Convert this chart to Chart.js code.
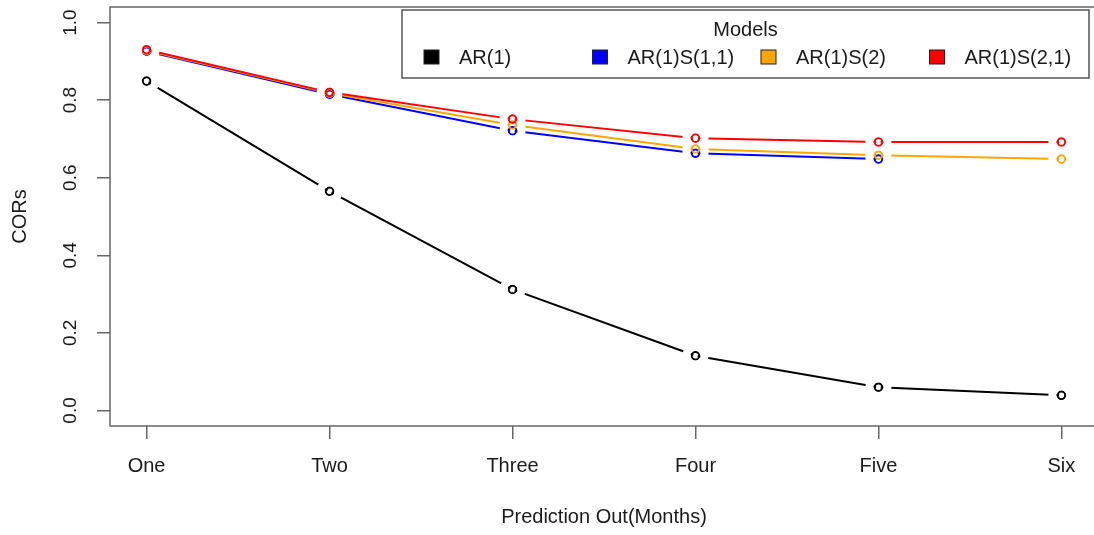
<!DOCTYPE html>
<html>
<head>
<meta charset="utf-8">
<script src="https://cdn.jsdelivr.net/npm/chart.js@4.4.0/dist/chart.umd.min.js"></script>
<style>
  html, body { margin: 0; padding: 0; background: #fff; overflow: hidden; }
  #wrap { width: 1094px; height: 535px; overflow: hidden; }
</style>
</head>
<body>
<div id="wrap"><canvas id="chart" width="1104" height="535"></canvas></div>
<script>
// values
const months = ['One', 'Two', 'Three', 'Four', 'Five', 'Six'];
const ar1 = [0.849, 0.565, 0.312, 0.141, 0.060, 0.039];
const ar1s11 = [0.926, 0.815, 0.721, 0.663, 0.648, null];
const ar1s2 = [0.928, 0.818, 0.736, 0.674, 0.658, 0.648];
const ar1s21 = [0.930, 0.820, 0.751, 0.702, 0.692, 0.692];
const yTicks = [0, 0.2, 0.4, 0.6, 0.8, 1.0];
const yTickLabels = ['0.0', '0.2', '0.4', '0.6', '0.8', '1.0'];
const modelNames = ['AR(1)', 'AR(1)S(1,1)', 'AR(1)S(2)', 'AR(1)S(2,1)'];
const modelColors = ['#000000', '#0000ff', '#ffa500', '#ff0000'];

const FONT = '"Liberation Sans", Arial, sans-serif';
const TEXT = '#1a1a1a';
const AXIS = '#666666';

const series = [ar1, ar1s11, ar1s2, ar1s21];
const datasets = series.map((vals, k) => ({
  label: modelNames[k],
  data: vals.map((v, i) => ({ x: i + 1, y: v })),
  borderColor: modelColors[k],
  backgroundColor: 'rgba(0,0,0,0)',
  borderWidth: 2,
  pointRadius: 3.8,
  pointBorderWidth: 2,
  pointBorderColor: modelColors[k],
  pointBackgroundColor: 'rgba(0,0,0,0)',
  tension: 0,
  spanGaps: false,
  order: 4 - k
}));

// type="b" look: cut the line around each point
const gapPlugin = {
  id: 'gaps',
  beforeDatasetDraw(chart, args) {
    const ctx = chart.ctx;
    ctx.save();
    ctx.beginPath();
    ctx.rect(0, 0, chart.width, chart.height);
    args.meta.data.forEach(pt => {
      if (pt.skip || isNaN(pt.y)) return;
      [13, 5, 2.4].forEach(r => {
        ctx.moveTo(pt.x + r, pt.y);
        ctx.arc(pt.x, pt.y, r, 0, Math.PI * 2);
      });
    });
    ctx.clip('evenodd');
  },
  afterDatasetDraw(chart) {
    chart.ctx.restore();
  }
};

const decorPlugin = {
  id: 'decor',
  afterDraw(chart) {
    const ctx = chart.ctx;
    const area = chart.chartArea;
    const yScale = chart.scales.y;

    // plot box
    ctx.save();
    ctx.strokeStyle = AXIS;
    ctx.lineWidth = 1.5;
    ctx.strokeRect(area.left, area.top, area.right - area.left, area.bottom - area.top);

    // rotated y tick labels
    ctx.font = '19px ' + FONT;
    ctx.fillStyle = TEXT;
    ctx.textAlign = 'center';
    ctx.textBaseline = 'middle';
    yTicks.forEach((v, i) => {
      ctx.save();
      ctx.translate(area.left - 39, yScale.getPixelForValue(v));
      ctx.rotate(-Math.PI / 2);
      ctx.fillText(yTickLabels[i], 0, 0);
      ctx.restore();
    });

    // legend
    const lx = area.right - 696, ly = area.top + 3, lw = 687, lh = 68;
    ctx.fillStyle = '#ffffff';
    ctx.fillRect(lx, ly, lw, lh);
    ctx.strokeStyle = '#555555';
    ctx.lineWidth = 1.5;
    ctx.strokeRect(lx, ly, lw, lh);
    ctx.font = '20px ' + FONT;
    ctx.fillStyle = TEXT;
    ctx.textAlign = 'center';
    ctx.fillText('Models', lx + lw / 2, ly + 20);
    ctx.textAlign = 'left';
    modelNames.forEach((name, k) => {
      const bx = lx + 22 + k * 168.5;
      ctx.fillStyle = modelColors[k];
      ctx.fillRect(bx, ly + 40, 15, 14);
      ctx.strokeStyle = '#222222';
      ctx.lineWidth = 1;
      ctx.strokeRect(bx, ly + 40, 15, 14);
      ctx.fillStyle = TEXT;
      ctx.fillText(name, bx + 35, ly + 48);
    });
    ctx.restore();
  }
};

new Chart(document.getElementById('chart').getContext('2d'), {
  type: 'line',
  data: { datasets: datasets },
  options: {
    responsive: false,
    animation: false,
    layout: { padding: { left: 0, top: 7, right: 5, bottom: 0 } },
    plugins: {
      legend: { display: false },
      tooltip: { enabled: false }
    },
    scales: {
      x: {
        type: 'linear',
        min: 0.8,
        max: 6.2,
        afterBuildTicks: s => { s.ticks = months.map((m, i) => ({ value: i + 1 })); },
        afterFit: s => { s.height = 109; },
        ticks: {
          callback: (v, i) => months[i],
          autoSkip: false,
          maxRotation: 0,
          padding: 15,
          color: TEXT,
          font: { family: FONT, size: 20 }
        },
        grid: { drawOnChartArea: false, drawTicks: true, tickLength: 13, color: AXIS, lineWidth: 1.5 },
        border: { display: false },
        title: {
          display: true,
          text: 'Prediction Out(Months)',
          color: TEXT,
          font: { family: FONT, size: 20 },
          padding: { top: 0, bottom: 6 }
        }
      },
      y: {
        min: -0.04,
        max: 1.04,
        afterBuildTicks: s => { s.ticks = yTicks.map(v => ({ value: v })); },
        afterFit: s => { s.width = 110; },
        ticks: { display: false },
        grid: { drawOnChartArea: false, drawTicks: true, tickLength: 13, color: AXIS, lineWidth: 1.5 },
        border: { display: false },
        title: {
          display: true,
          text: 'CORs',
          color: TEXT,
          font: { family: FONT, size: 20 },
          padding: { top: 8, bottom: 0 }
        }
      }
    }
  },
  plugins: [gapPlugin, decorPlugin]
});
</script>
</body>
</html>
